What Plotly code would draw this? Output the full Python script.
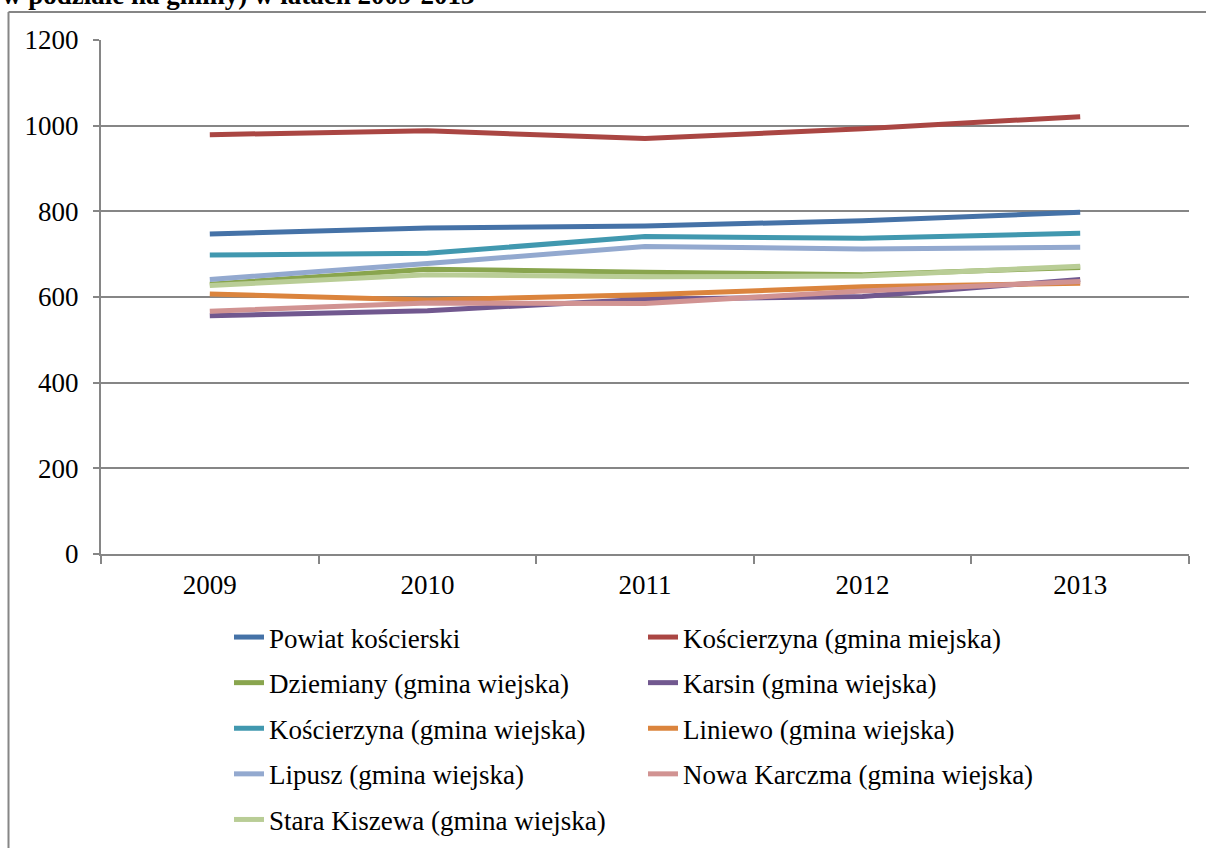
import plotly.graph_objects as go

years = ["2009", "2010", "2011", "2012", "2013"]

powiat = [747, 761, 766, 778, 798]
koscierzyna_m = [979, 988, 970, 993, 1021]
dziemiany = [630, 665, 658, 652, 669]
karsin = [556, 568, 595, 601, 641]
koscierzyna_w = [698, 702, 741, 737, 749]
liniewo = [607, 593, 605, 624, 632]
lipusz = [641, 678, 718, 712, 716]
nowa_karczma = [567, 586, 585, 614, 636]
stara_kiszewa = [627, 652, 647, 649, 672]

series = [
    ("Powiat kościerski", powiat, "#4572A7", "legend"),
    ("Kościerzyna (gmina miejska)", koscierzyna_m, "#AA4643", "legend2"),
    ("Dziemiany (gmina wiejska)", dziemiany, "#89A54E", "legend"),
    ("Karsin (gmina wiejska)", karsin, "#71588F", "legend2"),
    ("Kościerzyna (gmina wiejska)", koscierzyna_w, "#4198AF", "legend"),
    ("Liniewo (gmina wiejska)", liniewo, "#DB843D", "legend2"),
    ("Lipusz (gmina wiejska)", lipusz, "#93A9CF", "legend"),
    ("Nowa Karczma (gmina wiejska)", nowa_karczma, "#D19392", "legend2"),
    ("Stara Kiszewa (gmina wiejska)", stara_kiszewa, "#B9CD96", "legend"),
]

title_text = "w podziale na gminy) w latach 2009-2013"

FONT = "Liberation Serif"

fig = go.Figure()
for i, (name, vals, color, lg) in enumerate(series):
    fig.add_trace(go.Scatter(
        x=years, y=vals, name=name, mode="lines",
        line=dict(color=color, width=5),
        legend=lg, legendgroup=f"g{i}",
    ))

W, H = 1206, 848
L, R, T, B = 101, 17, 40, 294
pw, ph = W - L - R, H - T - B

def px2x(px):
    return (px - L) / pw

def py2y(py):
    return (H - B - py) / ph

legend_common = dict(
    orientation="v", xanchor="left", yanchor="top",
    xref="container", yref="container",
    font=dict(family=FONT, size=27, color="black"),
    bgcolor="rgba(0,0,0,0)", borderwidth=0, tracegroupgap=7.5,
    itemclick=False, itemdoubleclick=False,
)

fig.update_layout(
    width=W, height=H,
    margin=dict(l=L, r=R, t=T, b=B, autoexpand=False),
    paper_bgcolor="white", plot_bgcolor="white",
    font=dict(family=FONT, size=27, color="black"),
    showlegend=True,
    legend=dict(x=229 / W, y=1 - 613 / H, **legend_common),
    legend2=dict(x=643 / W, y=1 - 613 / H, **legend_common),
    xaxis=dict(
        type="category", tickson="boundaries", ticks="outside", ticklen=8,
        tickcolor="#868686", tickwidth=2, showline=True, linecolor="#868686",
        linewidth=2, showgrid=False, tickfont=dict(family=FONT, size=27),
        ticklabelstandoff=6, range=[-0.5, 4.5], fixedrange=True, automargin=False,
    ),
    yaxis=dict(
        range=[0, 1200], tickvals=[0, 200, 400, 600, 800, 1000, 1200],
        ticks="outside", ticklen=6, tickcolor="#868686", tickwidth=2,
        showline=True, linecolor="#868686", linewidth=2,
        showgrid=True, gridcolor="#868686", gridwidth=2,
        zeroline=False, tickfont=dict(family=FONT, size=27), fixedrange=True,
        ticklabelstandoff=9, automargin=False,
    ),
    annotations=[dict(
        text="<b>" + title_text + "</b>", xref="paper", yref="paper",
        x=px2x(0), y=py2y(-5), xanchor="left", yanchor="middle",
        showarrow=False, font=dict(family=FONT, size=27, color="black"),
    )],
    shapes=[
        dict(type="line", xref="paper", yref="paper", x0=px2x(8.5), x1=px2x(1300),
             y0=py2y(12), y1=py2y(12), line=dict(color="#868686", width=2)),
        dict(type="line", xref="paper", yref="paper", x0=px2x(8.5), x1=px2x(8.5),
             y0=py2y(12), y1=py2y(900), line=dict(color="#868686", width=2)),
    ],
)

fig.write_html("out.html", config={"displayModeBar": False},
               post_script="document.body.style.margin='0px';")
